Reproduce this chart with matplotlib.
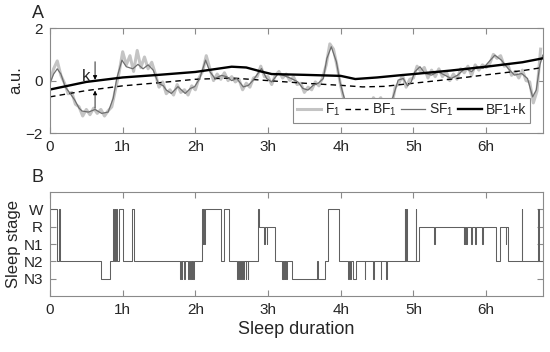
import numpy as np
import matplotlib
matplotlib.use('Agg')
import matplotlib.pyplot as plt

plt.rcParams['font.family'] = ['Liberation Sans', 'DejaVu Sans']
plt.rcParams['mathtext.default'] = 'regular'

# ---- panel A data (hours, a.u.) ----
f1_time = np.arange(0, 6.76, 0.05)
f1 = [-0.05, 0.45, 0.75, 0.20, -0.10, -0.50, -0.45, -0.90, -1.00, -1.35,
      -1.10, -1.30, -1.05, -1.25, -1.10, -1.35, -1.15, -1.00, -0.35, 0.30,
      1.10, 0.60, 0.95, 0.35, 1.15, 0.50, 0.90, 0.45, 0.70, 0.25,
      -0.25, -0.05, -0.50, -0.35, -0.55, -0.15, -0.45, -0.35, -0.55, -0.20,
      -0.35, 0.10, 0.35, 0.95, 0.45, 0.00, 0.25, 0.05, 0.30, 0.00,
      0.15, -0.05, 0.05, -0.35, -0.10, -0.25, 0.10, 0.15, 0.55, 0.15,
      0.15, -0.15, 0.20, 0.35, 0.10, 0.25, 0.00, 0.15, -0.15, -0.10,
      -0.45, -0.25, -0.35, -0.05, -0.20, 0.10, 0.60, 1.40, 1.20, 0.55,
      -0.20, -0.80, -1.20, -0.85, -1.15, -0.80, -1.20, -0.90, -1.10, -0.65,
      -0.85, -0.65, -1.05, -0.85, -1.00, -0.25, -0.10, 0.20, -0.25, 0.05,
      0.10, 0.55, 0.35, 0.50, 0.10, 0.40, 0.15, 0.45, 0.15, 0.35,
      0.00, 0.25, 0.05, 0.45, 0.30, 0.55, 0.20, 0.60, 0.40, 0.60,
      0.50, 0.65, 1.00, 0.85, 0.95, 0.55, 0.60, 0.20, 0.35, 0.10,
      0.40, 0.00, -0.05, -0.85, -0.40, 1.20]

sf1_time = [0.00, 0.05, 0.10, 0.15, 0.21, 0.28, 0.34, 0.40, 0.44, 0.53, 0.62, 0.71,
            0.80, 0.87, 0.92, 0.99, 1.05, 1.14, 1.21, 1.28, 1.35, 1.42, 1.49, 1.56,
            1.60, 1.67, 1.76, 1.86, 1.93, 1.99, 2.06, 2.14, 2.20, 2.27, 2.36, 2.43,
            2.50, 2.57, 2.66, 2.73, 2.79, 2.86, 2.91, 2.98, 3.05, 3.14, 3.23, 3.32,
            3.41, 3.48, 3.55, 3.62, 3.69, 3.76, 3.81, 3.87, 3.94, 3.99, 4.03, 4.08,
            4.15, 4.25, 4.35, 4.45, 4.52, 4.58, 4.65, 4.72, 4.79, 4.86, 4.92, 4.97,
            5.02, 5.09, 5.16, 5.25, 5.34, 5.43, 5.52, 5.61, 5.71, 5.80, 5.87, 5.96,
            6.02, 6.12, 6.21, 6.30, 6.39, 6.49, 6.57, 6.64, 6.69, 6.74, 6.78]
sf1 = [-0.10, 0.25, 0.45, 0.25, -0.24, -0.50, -0.74, -1.05, -1.16, -1.20, -1.10, -1.25,
       -1.20, -0.67, 0.10, 0.78, 0.53, 0.45, 0.62, 0.45, 0.60, 0.40, -0.10, -0.20,
       -0.36, -0.49, -0.23, -0.49, -0.30, -0.23, 0.08, 0.78, 0.34, 0.08, 0.20, 0.15,
       0.00, 0.08, -0.24, -0.18, 0.00, 0.27, 0.46, 0.08, -0.05, 0.27, 0.18, 0.08,
       -0.05, -0.30, -0.36, -0.18, -0.10, 0.08, 0.85, 1.29, 0.72, -0.05, -0.49, -0.95,
       -1.05, -1.00, -1.05, -0.80, -0.70, -0.85, -1.05, -0.62, 0.02, 0.08, -0.20, -0.05,
       0.34, 0.53, 0.27, 0.21, 0.34, 0.21, 0.08, 0.21, 0.47, 0.34, 0.53, 0.47,
       0.66, 0.97, 0.78, 0.47, 0.21, 0.27, 0.08, -0.62, -0.36, 0.60, 0.97]

bf1_time = [0.0, 0.5, 1.0, 1.5, 2.0, 2.5, 3.0, 3.5, 4.0, 4.3, 4.6, 5.0, 5.5, 6.0, 6.5, 6.78]
bf1 = [-0.62, -0.38, -0.20, -0.08, 0.05, 0.10, 0.00, -0.10, -0.18, -0.24, -0.22,
       -0.10, 0.05, 0.22, 0.38, 0.50]

bf1k_time = [0.0, 0.5, 1.0, 1.5, 2.0, 2.3, 2.5, 2.7, 2.9, 3.05, 3.5, 4.0, 4.2, 4.5,
             4.8, 5.0, 5.5, 6.0, 6.5, 6.78]
bf1k = [-0.34, -0.05, 0.12, 0.22, 0.33, 0.45, 0.53, 0.50, 0.35, 0.25, 0.22, 0.18,
        0.06, 0.12, 0.20, 0.25, 0.38, 0.53, 0.70, 0.85]

# ---- panel B data: hypnogram transitions ----
hyp_time = [0.00, 0.10, 0.12, 0.14, 0.70, 0.83,
            0.87, 0.88, 0.89, 0.90, 0.91, 0.92, 0.95, 1.01, 1.13, 1.15,
            1.79, 1.80, 1.81, 1.82, 1.85, 1.86, 1.90, 1.91, 1.93, 1.94, 1.95, 1.96, 1.97, 1.98,
            2.09, 2.10, 2.11, 2.12, 2.13, 2.35, 2.40, 2.46,
            2.57, 2.58, 2.60, 2.61, 2.63, 2.64, 2.66, 2.67, 2.69, 2.70, 2.72, 2.73,
            2.86, 2.88, 2.95, 2.96, 2.98, 2.99, 3.10,
            3.19, 3.20, 3.21, 3.22, 3.23, 3.24, 3.25, 3.26, 3.33,
            3.68, 3.69, 3.79, 3.83, 3.97,
            4.10, 4.11, 4.13, 4.14, 4.17, 4.21, 4.33, 4.34, 4.45, 4.46, 4.55, 4.56, 4.62, 4.63,
            4.88, 4.89, 4.90, 4.91, 5.03, 5.04, 5.08,
            5.29, 5.30, 5.69, 5.70, 5.71, 5.72, 5.73, 5.74, 5.79, 5.80, 5.85, 5.86, 5.95, 5.96,
            6.14, 6.19, 6.27, 6.28, 6.30, 6.49, 6.50, 6.72, 6.73, 6.78]
hyp_stage = ['W', 'N2', 'W', 'N2', 'N3', 'N2',
             'W', 'N2', 'W', 'N2', 'W', 'N2', 'W', 'N2', 'W', 'N2',
             'N3', 'N2', 'N3', 'N2', 'N3', 'N2', 'N3', 'N2', 'N3', 'N2', 'N3', 'N2', 'N3', 'N2',
             'W', 'N1', 'W', 'N1', 'W', 'N2', 'W', 'N2',
             'N3', 'N2', 'N3', 'N2', 'N3', 'N2', 'N3', 'N2', 'N3', 'N2', 'N3', 'N2',
             'W', 'R', 'N1', 'R', 'N1', 'R', 'N2',
             'N3', 'N2', 'N3', 'N2', 'N3', 'N2', 'N3', 'N2', 'N3',
             'N2', 'N3', 'N2', 'W', 'N2',
             'N3', 'N2', 'N3', 'N2', 'N3', 'N2', 'N3', 'N2', 'N3', 'N2', 'N3', 'N2', 'N3', 'N2',
             'W', 'N2', 'W', 'N2', 'W', 'N2', 'R',
             'N1', 'R', 'N1', 'R', 'N1', 'R', 'N1', 'R', 'N1', 'R', 'N1', 'R', 'N1', 'R',
             'N2', 'R', 'N1', 'R', 'N2', 'W', 'N2', 'W', 'N2', 'N2']
stage_names = ['N3', 'N2', 'N1', 'R', 'W']
hour_labels = ['0', '1h', '2h', '3h', '4h', '5h', '6h']

t_max = 6.78
spine_col = '#8a8a8a'
txt_col = '#262626'


def style_axes(ax):
    for s in ax.spines.values():
        s.set_color(spine_col)
        s.set_linewidth(0.8)
    ax.tick_params(direction='in', top=True, right=True, length=4,
                   color=spine_col, labelcolor=txt_col, labelsize=11, pad=5)
    ax.set_xlim(0, t_max)
    ax.set_xticks(range(7))
    ax.set_xticklabels(hour_labels)


fig = plt.figure(figsize=(5.5, 3.52), dpi=100)
axA = fig.add_axes([0.0909, 0.622, 0.896, 0.298])
axB = fig.add_axes([0.0909, 0.159, 0.896, 0.2955])

# panel A
axA.plot(f1_time, f1, color='#c4c4c4', lw=2.2, label='F$_1$')
axA.plot(bf1_time, bf1, color='black', lw=1.0, ls=(0, (4, 3)), label='BF$_1$')
axA.plot(sf1_time, sf1, color='#6e6e6e', lw=0.9, label='SF$_1$')
axA.plot(bf1k_time, bf1k, color='black', lw=1.7, label='BF1+k')
style_axes(axA)
axA.set_ylim(-2, 2)
axA.set_yticks([-2, 0, 2])
axA.set_ylabel('a.u.', fontsize=12, color=txt_col, labelpad=2)

axA.annotate('', xy=(0.62, 0.03), xytext=(0.62, 0.72),
             arrowprops=dict(arrowstyle='-|>', color='black', lw=0.6,
                             mutation_scale=6, shrinkA=0, shrinkB=0))
axA.annotate('', xy=(0.62, -0.38), xytext=(0.62, -1.05),
             arrowprops=dict(arrowstyle='-|>', color='black', lw=0.6,
                             mutation_scale=6, shrinkA=0, shrinkB=0))
axA.text(0.50, 0.17, 'k', fontsize=12, color=txt_col, ha='center', va='center')

leg = axA.legend(loc='lower right', bbox_to_anchor=(0.975, 0.1), ncol=4,
                 fontsize=10, frameon=True, fancybox=False, handlelength=1.7,
                 handletextpad=0.3, columnspacing=0.3, borderpad=0.3,
                 borderaxespad=0)
leg.get_frame().set_edgecolor(spine_col)
leg.get_frame().set_linewidth(0.8)
leg.get_frame().set_alpha(1)
for t in leg.get_texts():
    t.set_color(txt_col)

# panel B
stage_val = [stage_names.index(s) + 1 for s in hyp_stage]
axB.plot(hyp_time, stage_val, drawstyle='steps-post', color='#606060', lw=0.75)
style_axes(axB)
axB.set_ylim(0, 6)
axB.set_yticks(range(1, 6))
axB.set_yticklabels(stage_names)
axB.set_ylabel('Sleep stage', fontsize=12, color=txt_col, labelpad=2)
axB.set_xlabel('Sleep duration', fontsize=13, color=txt_col, labelpad=3)

fig.text(0.058, 0.962, 'A', fontsize=13, color=txt_col, va='center')
fig.text(0.058, 0.497, 'B', fontsize=13, color=txt_col, va='center')

fig.savefig('out.png', dpi=100)
